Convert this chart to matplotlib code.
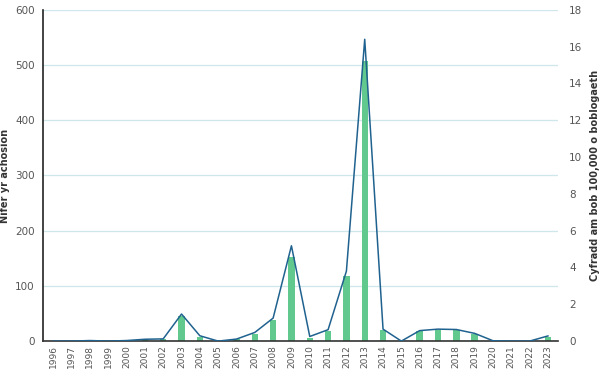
import numpy as np
import matplotlib.pyplot as plt

years = [str(y) for y in range(1996, 2024)]
cases = [0, 0, 1, 0, 1, 3, 4, 46, 8, 0, 3, 12, 39, 153, 6, 18, 118, 508, 21, 0,
         19, 21, 21, 13, 0, 0, 0, 8]
rate = [0, 0, 0.03, 0, 0.03, 0.1, 0.12, 1.47, 0.29, 0, 0.11, 0.47, 1.25, 5.18, 0.25,
        0.62, 3.8, 16.4, 0.65, 0, 0.57, 0.65, 0.63, 0.42, 0.02, 0, 0, 0.28]

fig = plt.figure(figsize=(6, 3.79), dpi=100)
ax = fig.add_axes([0.072, 0.1, 0.858, 0.874])
ax2 = ax.twinx()

x = np.arange(len(years))
ax.bar(x, cases, width=0.35, color='#62c98e', zorder=2)
ax2.plot(x, rate, color='#20628f', lw=1.1, zorder=3)

ax.set_ylim(0, 600)
ax.set_yticks(range(0, 601, 100))
ax2.set_ylim(0, 18)
ax2.set_yticks(range(0, 19, 2))
ax.set_xlim(-0.55, len(years) - 0.45)
ax.set_xticks(x)
ax.set_xticklabels(years, rotation=90, fontsize=6.5, color='#555555')

ax.grid(axis='y', color='#cfe6ea', lw=0.9, zorder=0)
ax.set_axisbelow(True)
for s in ['top', 'right']:
    ax.spines[s].set_visible(False)
for s in ['top', 'right', 'left', 'bottom']:
    ax2.spines[s].set_visible(False)
ax.spines['left'].set_color('#222222')
ax.spines['left'].set_linewidth(1.2)
ax.spines['bottom'].set_color('#333333')
ax.spines['bottom'].set_linewidth(1.2)

ax.tick_params(axis='y', length=0, labelsize=7.5, labelcolor='#555555', pad=6)
ax.tick_params(axis='x', length=0, pad=3)
ax2.tick_params(axis='y', length=0, labelsize=7.5, labelcolor='#555555', pad=8)

ax.set_ylabel('Nifer yr achosion', fontsize=7, fontweight='bold', color='#333333')
ax.yaxis.set_label_coords(-0.064, 0.5)
ax2.set_ylabel('Cyfradd am bob 100,000 o boblogaeth', fontsize=7, fontweight='bold',
               color='#333333')
ax2.yaxis.set_label_coords(1.062, 0.5)

fig.savefig('out.png', dpi=100)
